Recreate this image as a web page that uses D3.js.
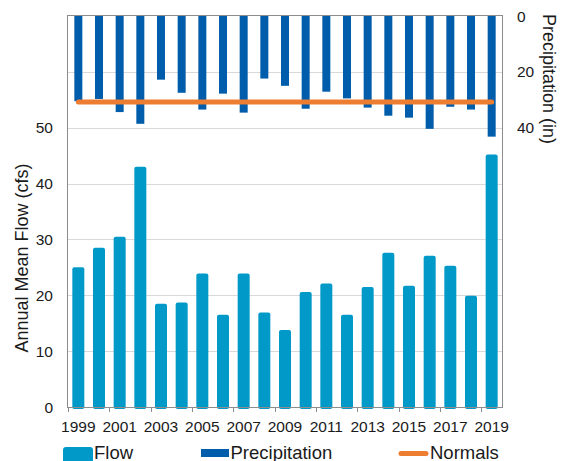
<!DOCTYPE html>
<html>
<head>
<meta charset="utf-8">
<script src="https://cdn.jsdelivr.net/npm/d3@7"></script>
<style>
  html, body { margin: 0; padding: 0; background: #fff; }
  svg { display: block; font-family: "Liberation Sans", Arial, sans-serif; }
</style>
</head>
<body>
<svg id="chart" width="561" height="461"></svg>
<script>
// Annual values, 1999-2019
const years = d3.range(1999, 2020).map(String);
const flow = [25.0, 28.5, 30.5, 43.0, 18.5, 18.7, 23.9, 16.5, 23.9, 16.9, 13.8,
              20.6, 22.1, 16.5, 21.5, 27.6, 21.7, 27.1, 25.3, 19.9, 45.2];
const precipitation = [30.5, 29.7, 34.4, 38.6, 22.8, 27.5, 33.5, 27.8, 34.6, 22.4, 25.0,
                       33.2, 27.1, 29.5, 32.8, 35.7, 36.4, 40.4, 32.5, 33.5, 43.2];
const normals = 30.8;
const flowTicks = [0, 10, 20, 30, 40, 50];
const gridTicks = [10, 20, 30, 40, 50, 60];
const precipTicks = [0, 20, 40];
const yearLabels = years.filter((d, i) => i % 2 === 0);

const svg = d3.select("#chart");
const plotLeft = 68, plotRight = 502, plotTop = 16, plotBottom = 407;

const x = d3.scaleBand().domain(years).range([plotLeft, plotRight]).padding(0);
const yFlow = d3.scaleLinear().domain([0, 70]).range([plotBottom, plotTop]);
const yPrecip = d3.scaleLinear().domain([0, 140]).range([plotTop, plotBottom]);

const flowColor = "#0099c8";
const precipColor = "#005dab";
const normalsColor = "#ed7d31";
const textColor = "#1a1a1a";

// gridlines
svg.append("g").selectAll("line").data(gridTicks).join("line")
  .attr("x1", plotLeft).attr("x2", plotRight)
  .attr("y1", d => Math.round(yFlow(d)) + 0.5).attr("y2", d => Math.round(yFlow(d)) + 0.5)
  .attr("stroke", "#d9d9d9").attr("stroke-width", 1);

const bw = x.bandwidth();
const flowW = 12, precipW = 8;

// flow bars
svg.append("g").selectAll("rect").data(flow).join("rect")
  .attr("x", (d, i) => x(years[i]) + bw / 2 - flowW / 2)
  .attr("y", d => yFlow(d))
  .attr("width", flowW)
  .attr("height", d => yFlow(0) - yFlow(d) + 2)
  .attr("rx", 2)
  .attr("fill", flowColor);

// precipitation bars hang from the top (reversed right axis)
svg.append("g").selectAll("rect").data(precipitation).join("rect")
  .attr("x", (d, i) => x(years[i]) + bw / 2 - precipW / 2)
  .attr("y", yPrecip(0))
  .attr("width", precipW)
  .attr("height", d => yPrecip(d) - yPrecip(0))
  .attr("fill", precipColor);

// normals line
svg.append("line")
  .attr("x1", x(years[0]) + bw / 2).attr("x2", x(years[years.length - 1]) + bw / 2)
  .attr("y1", yPrecip(normals)).attr("y2", yPrecip(normals))
  .attr("stroke", normalsColor).attr("stroke-width", 5).attr("stroke-linecap", "round");

// plot frame
svg.append("rect")
  .attr("x", plotLeft - 0.5).attr("y", plotTop - 0.5)
  .attr("width", plotRight - plotLeft + 1).attr("height", plotBottom - plotTop + 1)
  .attr("fill", "none").attr("stroke", "#8c8c8c").attr("stroke-width", 1);

// bottom axis: ticks every second year boundary, labels on odd years
const xTickPos = d3.range(0, years.length, 2).map(i => x(years[i]));
svg.append("g").selectAll("line").data(xTickPos).join("line")
  .attr("x1", d => Math.round(d) + 0.5).attr("x2", d => Math.round(d) + 0.5)
  .attr("y1", plotBottom).attr("y2", plotBottom + 5)
  .attr("stroke", "#8c8c8c");
svg.append("g").selectAll("text").data(yearLabels).join("text")
  .attr("x", d => x(d) + bw / 2)
  .attr("y", 431.5)
  .attr("text-anchor", "middle")
  .attr("font-size", "15.5px")
  .attr("fill", textColor)
  .text(d => d);

// left axis labels
svg.append("g").selectAll("text").data(flowTicks).join("text")
  .attr("x", plotLeft - 15)
  .attr("y", d => yFlow(d))
  .attr("dy", "0.36em")
  .attr("text-anchor", "end")
  .attr("font-size", "15.5px")
  .attr("fill", textColor)
  .text(d => d);

// right axis labels
svg.append("g").selectAll("text").data(precipTicks).join("text")
  .attr("x", plotRight + 15)
  .attr("y", d => yPrecip(d))
  .attr("dy", "0.36em")
  .attr("text-anchor", "start")
  .attr("font-size", "15.5px")
  .attr("fill", textColor)
  .text(d => d);

// axis titles
svg.append("text")
  .attr("transform", "translate(28,258) rotate(-90)")
  .attr("text-anchor", "middle")
  .attr("font-size", "18px")
  .attr("fill", textColor)
  .text("Annual Mean Flow (cfs)");
svg.append("text")
  .attr("transform", "translate(543,79) rotate(90)")
  .attr("text-anchor", "middle")
  .attr("font-size", "18px")
  .attr("fill", textColor)
  .text("Precipitation (in)");

// legend
const legend = svg.append("g").attr("font-size", "18.5px").attr("fill", textColor);
legend.append("rect").attr("x", 63).attr("y", 447).attr("width", 30).attr("height", 16)
  .attr("rx", 3).attr("fill", flowColor);
legend.append("text").attr("x", 94).attr("y", 458.5).text("Flow");
legend.append("rect").attr("x", 201).attr("y", 449).attr("width", 28).attr("height", 8)
  .attr("fill", precipColor);
legend.append("text").attr("x", 230.5).attr("y", 458.5).text("Precipitation");
legend.append("line").attr("x1", 401).attr("x2", 426).attr("y1", 453.5).attr("y2", 453.5)
  .attr("stroke", normalsColor).attr("stroke-width", 5).attr("stroke-linecap", "round");
legend.append("text").attr("x", 430).attr("y", 458.5).text("Normals");
</script>
</body>
</html>
